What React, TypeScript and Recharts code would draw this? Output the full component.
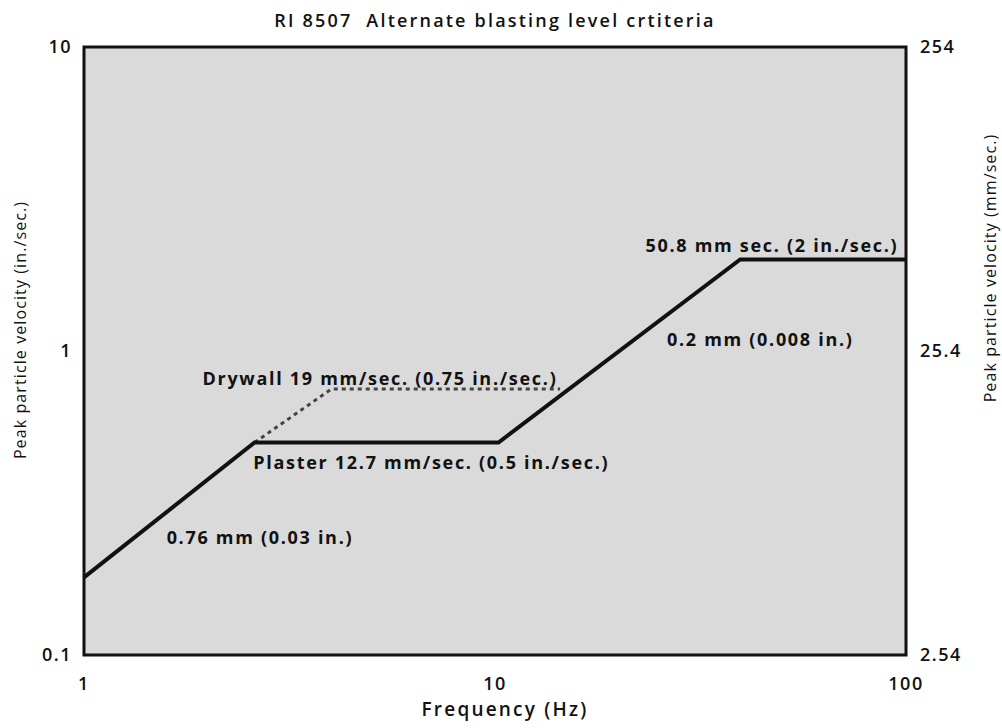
import React from 'react';
import {
  ComposedChart,
  Line,
  XAxis,
  YAxis,
  CartesianGrid,
  ReferenceArea,
  ReferenceDot,
  Label,
} from 'recharts';

// RI 8507 criteria curve (frequency in Hz, velocity in in./sec.)
const criteriaFreq = [1, 2.6, 10.2, 39.5, 100];
const criteriaVel = [0.18, 0.5, 0.5, 2.0, 2.0];

// drywall alternative (dashed)
const drywallFreq = [2.6, 4.0, 14.4];
const drywallVel = [0.5, 0.75, 0.75];

const freqTicks = [1, 10, 100];
const inchTicks = [0.1, 1, 10];
const mmTicks = [2.54, 25.4, 254];

const noteText = [
  'Drywall 19 mm/sec. (0.75 in./sec.)',
  'Plaster 12.7 mm/sec. (0.5 in./sec.)',
  '0.76 mm (0.03 in.)',
  '50.8 mm sec. (2 in./sec.)',
  '0.2 mm (0.008 in.)',
];
const noteFreq = [5.25, 7.0, 2.68, 47.2, 44.2];
const noteVel = [0.81, 0.428, 0.243, 2.23, 1.09];

const criteriaData = criteriaFreq.map((f, i) => ({ f, v: criteriaVel[i] }));
const drywallData = drywallFreq.map((f, i) => ({ f, v: drywallVel[i] }));

const FONT = '"Open Sans", sans-serif';

const tickStyle = {
  fontSize: 18,
  fontWeight: 600,
  fill: '#111',
  fontFamily: FONT,
  letterSpacing: 1.5,
};

const sideTitle = {
  fontSize: 16,
  fontWeight: 500,
  fill: '#111',
  fontFamily: FONT,
  letterSpacing: 1.1,
};

export default function App() {
  // absolutely placed so the 720px chart does not push the page into a scrollbar
  return (
    <div style={{ position: 'absolute', top: 8, left: 8, width: 994, height: 720, background: '#fff' }}>
      <div
        style={{
          position: 'absolute',
          top: 0,
          left: 76,
          width: 822,
          textAlign: 'center',
          fontFamily: FONT,
          fontSize: 18,
          fontWeight: 600,
          letterSpacing: 2.2,
          color: '#111',
          lineHeight: '24px',
        }}
      >
        RI 8507&nbsp;&nbsp;Alternate blasting level crtiteria
      </div>
      <ComposedChart
        width={994}
        height={720}
        margin={{ top: 39, right: 0, bottom: 0, left: 0 }}
        style={{ fontFamily: FONT }}
      >
        <CartesianGrid fill="#dadada" horizontal={false} vertical={false} yAxisId="in" />
        <XAxis
          dataKey="f"
          type="number"
          scale="log"
          domain={[1, 100]}
          ticks={freqTicks}
          allowDataOverflow
          height={73}
          tickLine={false}
          tickSize={6}
          tickMargin={16}
          axisLine={false}
          tick={tickStyle}
        >
          <Label
            value="Frequency (Hz)"
            position="insideBottom"
            offset={12}
            dx={10}
            style={{
              fontSize: 19,
              fontWeight: 600,
              fill: '#111',
              fontFamily: FONT,
              letterSpacing: 2.2,
            }}
          />
        </XAxis>
        <YAxis
          yAxisId="in"
          type="number"
          scale="log"
          domain={[0.1, 10]}
          ticks={inchTicks}
          allowDataOverflow
          width={76}
          tickLine={false}
          tickSize={6}
          tickMargin={6}
          axisLine={false}
          tick={tickStyle}
        >
          <Label
            content={({ viewBox }: any) => {
              const cx = viewBox.x + 12;
              const cy = viewBox.y + viewBox.height / 2 - 21;
              return (
                <text
                  x={cx}
                  y={cy}
                  transform={`rotate(-90 ${cx} ${cy})`}
                  textAnchor="middle"
                  dominantBaseline="central"
                  style={sideTitle}
                >
                  Peak particle velocity (in./sec.)
                </text>
              );
            }}
          />
        </YAxis>
        <YAxis
          yAxisId="mm"
          orientation="right"
          type="number"
          scale="log"
          domain={[2.54, 254]}
          ticks={mmTicks}
          allowDataOverflow
          width={96}
          tickLine={false}
          tickSize={6}
          tickMargin={8}
          axisLine={false}
          tick={tickStyle}
        >
          <Label
            content={({ viewBox }: any) => {
              const cx = viewBox.x + 84;
              const cy = viewBox.y + viewBox.height / 2 - 83;
              return (
                <text
                  x={cx}
                  y={cy}
                  transform={`rotate(-90 ${cx} ${cy})`}
                  textAnchor="middle"
                  dominantBaseline="central"
                  style={sideTitle}
                >
                  Peak particle velocity (mm/sec.)
                </text>
              );
            }}
          />
        </YAxis>
        <ReferenceArea
          yAxisId="in"
          x1={1}
          x2={100}
          y1={0.1}
          y2={10}
          fill="none"
          fillOpacity={0}
          stroke="#111"
          strokeWidth={3}
        />
        <Line
          yAxisId="in"
          data={drywallData}
          dataKey="v"
          type="linear"
          stroke="#444"
          strokeWidth={3}
          strokeDasharray="4 4"
          dot={false}
          activeDot={false}
          isAnimationActive={false}
        />
        <Line
          yAxisId="in"
          data={criteriaData}
          dataKey="v"
          type="linear"
          stroke="#111"
          strokeWidth={4}
          dot={false}
          activeDot={false}
          isAnimationActive={false}
        />
        {noteText.map((t, i) => (
          <ReferenceDot
            key={t}
            yAxisId="in"
            x={noteFreq[i]}
            y={noteVel[i]}
            r={1}
            fill="none"
            stroke="none"
            label={{
              value: t,
              position: 'center',
              style: {
                fontSize: 18,
                fontWeight: 700,
                fill: '#111',
                fontFamily: FONT,
                letterSpacing: 1.7,
              },
            }}
          />
        ))}
      </ComposedChart>
    </div>
  );
}
